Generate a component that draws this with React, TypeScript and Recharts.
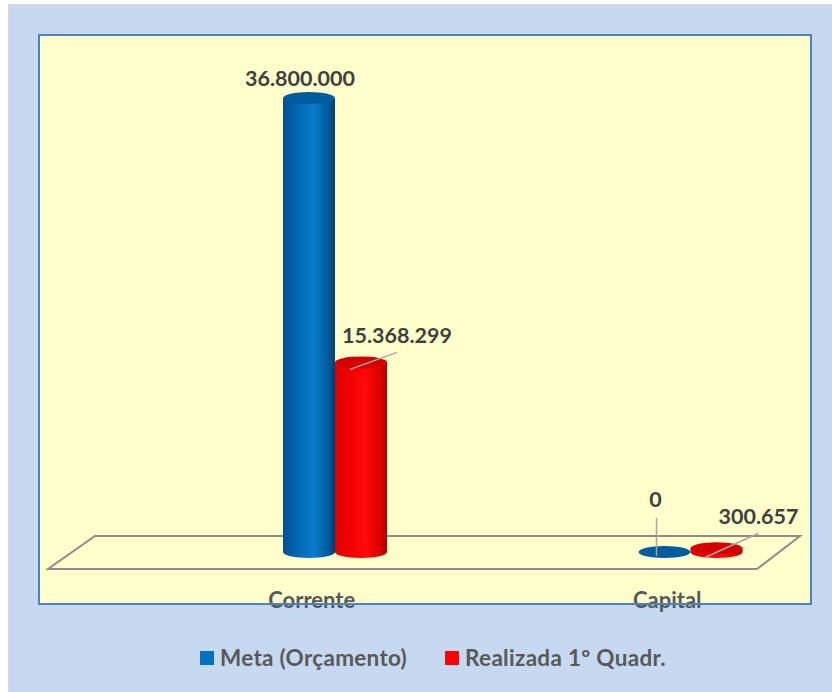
import React from 'react';
import { BarChart, Bar, XAxis, YAxis, LabelList } from 'recharts';

const CATEGORIES = ['Corrente', 'Capital'];
const META = [36800000, 0];
const REALIZADA = [15368299, 300657];
const SERIES_NAMES = ['Meta (Orçamento)', 'Realizada 1º Quadr.'];
const SERIES_COLORS = ['#0070c0', '#ff0000'];

const data = CATEGORIES.map((name, i) => ({ name, meta: META[i], realizada: REALIZADA[i] }));

// label placement tweaks (relative to bar top centre), per series / per category
const LABEL_POS: Record<string, { dx: number; dy: number; line?: [number, number, number, number] }[]> = {
  meta: [
    { dx: -9, dy: -20 },
    { dx: -9, dy: -53, line: [-8, 4, -8, -34] },
  ],
  realizada: [
    { dx: 36, dy: -27, line: [-11, 7, 36, -10] },
    { dx: 42, dy: -32, line: [-11, 9, 42, -15] },
  ],
};

const FONT = 'Lato, "Open Sans", sans-serif';
const fmt = (v: number) => String(Math.round(v)).replace(/\B(?=(\d{3})+(?!\d))/g, '.');

const makeCylinder = (grad: string, top: string) => (props: any) => {
  const { x, y, width, height } = props;
  if (x == null || y == null) return null;
  const rx = width / 2;
  const ry = 6;
  const h = Math.max(0, height || 0);
  return (
    <g>
      {h > 0 && (
        <path
          d={`M${x},${y} L${x},${y + h} A${rx},${ry} 0 0 0 ${x + width},${y + h} L${x + width},${y} Z`}
          fill={`url(#${grad})`}
        />
      )}
      <ellipse cx={x + rx} cy={y} rx={rx} ry={ry} fill={top} />
    </g>
  );
};

const makeLabel = (key: string) => (props: any) => {
  const { x, y, width, value, index } = props;
  const pos = LABEL_POS[key][index];
  const cx = x + width / 2;
  return (
    <g>
      {pos.line && (
        <line
          x1={cx + pos.line[0]} y1={y + pos.line[1]}
          x2={cx + pos.line[2]} y2={y + pos.line[3]}
          stroke="#a6a6a6" strokeWidth={1.5}
        />
      )}
      <text
        x={cx + pos.dx} y={y + pos.dy}
        textAnchor="middle" dominantBaseline="central"
        fontFamily={FONT} fontWeight={700} fontSize={21.5} fill="#404040"
      >
        {fmt(value)}
      </text>
    </g>
  );
};

const CategoryTick = (props: any) => {
  const { x, y, payload } = props;
  return (
    <text x={x - 23} y={y + 48} textAnchor="middle" fontFamily={FONT} fontWeight={700} fontSize={22} fill="#595959">
      {payload.value}
    </text>
  );
};

export default function App() {
  return (
    <div style={{ position: 'absolute', left: 0, top: 0, width: 832, height: 692, overflow: 'hidden' }}>
      <div style={{ position: 'absolute', left: 8, top: 4, width: 824, height: 688, background: '#c6d9f0', borderTop: '1px solid #d9d9d9', borderLeft: '1px solid #d9d9d9', boxSizing: 'border-box' }} />
      <div style={{ position: 'absolute', left: 38, top: 34, width: 774, height: 571, background: '#ffffcc' }} />
      <svg width={832} height={692} style={{ position: 'absolute', left: 0, top: 0 }}>
        <polygon points="48,569 95,536 800,536 757,569" fill="none" stroke="#8c8c8c" strokeWidth={2} />
      </svg>
      <div style={{ position: 'absolute', left: 0, top: 0 }}>
        <BarChart width={880} height={692} data={data} margin={{ top: 98, right: 12, bottom: 110, left: 157 }} barGap={0}>
          <defs>
            <linearGradient id="gBlue" x1="0" y1="0" x2="1" y2="0">
              <stop offset="0%" stopColor="#004f8f" />
              <stop offset="25%" stopColor="#0066b0" />
              <stop offset="60%" stopColor="#0a7ccc" />
              <stop offset="85%" stopColor="#005e9f" />
              <stop offset="100%" stopColor="#003d6e" />
            </linearGradient>
            <linearGradient id="gRed" x1="0" y1="0" x2="1" y2="0">
              <stop offset="0%" stopColor="#d90000" />
              <stop offset="30%" stopColor="#f50000" />
              <stop offset="60%" stopColor="#ff0a0a" />
              <stop offset="85%" stopColor="#e00000" />
              <stop offset="100%" stopColor="#a30000" />
            </linearGradient>
          </defs>
          <XAxis dataKey="name" axisLine={false} tickLine={false} tick={<CategoryTick />} height={30} interval={0} />
          <YAxis hide domain={[0, 36800000]} />
          <Bar dataKey="meta" name={SERIES_NAMES[0]} barSize={52} isAnimationActive={false}
            shape={makeCylinder('gBlue', '#005c9c')}>
            <LabelList dataKey="meta" content={makeLabel('meta')} />
          </Bar>
          <Bar dataKey="realizada" name={SERIES_NAMES[1]} barSize={52} isAnimationActive={false}
            shape={makeCylinder('gRed', '#d40000')}>
            <LabelList dataKey="realizada" content={makeLabel('realizada')} />
          </Bar>
        </BarChart>
      </div>
      <div style={{ position: 'absolute', left: 38, top: 34, width: 774, height: 571, border: '2px solid #4f81bd', boxSizing: 'border-box', pointerEvents: 'none' }} />
      <div style={{ position: 'absolute', left: 200, top: 644, display: 'flex', alignItems: 'center', fontFamily: FONT, fontWeight: 700, fontSize: 22.5, letterSpacing: 0.3, color: '#595959' }}>
        {SERIES_NAMES.map((n, i) => (
          <div key={n} style={{ display: 'flex', alignItems: 'center', marginRight: i === 0 ? 38 : 0 }}>
            <span style={{ width: 14, height: 14, background: SERIES_COLORS[i], marginRight: 6, display: 'inline-block' }} />
            <span>{n}</span>
          </div>
        ))}
      </div>
    </div>
  );
}
